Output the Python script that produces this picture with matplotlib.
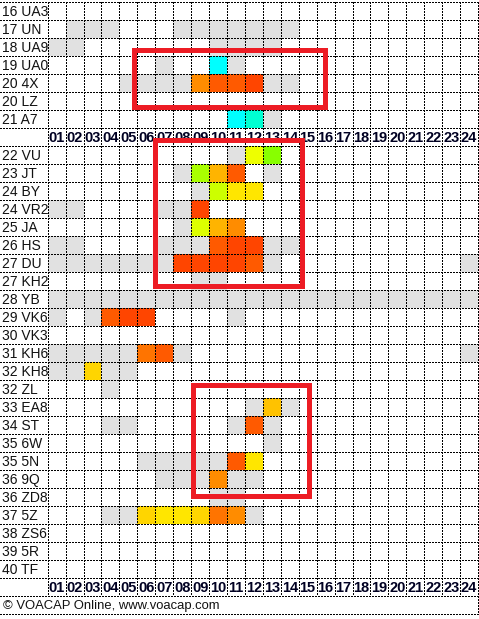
import matplotlib
matplotlib.use("Agg")
import matplotlib.pyplot as plt
from matplotlib.patches import Rectangle

plt.rcParams['font.family'] = ['Liberation Sans', 'DejaVu Sans']

# stations and hourly openings, one char per hour 01..24
# '.' closed, 'g' marginal, other letters = signal colour
stations_top = ["16 UA3", "17 UN", "18 UA9", "19 UA0", "20 4X", "20 LZ", "21 A7"]
cells_top = [
    "........................",
    ".ggg...ggggggg..........",
    "gg.......gggg...........",
    "......g..cg.............",
    "....ggggorrRgg..........",
    "........................",
    "..........cqg...........",
]

stations_bottom = ["22 VU", "23 JT", "24 BY", "24 VR2", "25 JA", "26 HS", "27 DU",
                   "27 KH2", "28 YB", "29 VK6", "30 VK3", "31 KH6", "32 KH8", "32 ZL",
                   "33 EA8", "34 ST", "35 6W", "35 5N", "36 9Q", "36 ZD8", "37 5Z",
                   "38 ZS6", "39 5R", "40 TF"]
cells_bottom = [
    "..........gYl...........",
    ".......gLar.g...........",
    "........gkyy............",
    "gg....ggR...............",
    ".......gKao.............",
    "gg....gggrRRgg..........",
    "gggggggRRRRrg..........g",
    "........gg..............",
    "gggggggggggggggggggggggg",
    "g.grRR....g.............",
    "........................",
    "gggggOrg...............g",
    "ggdgg...................",
    "...g....................",
    "...........gGg..........",
    "...gg.....grg...........",
    "............g...........",
    ".....gggggry............",
    "......gggogg............",
    ".........gg.............",
    "...ggdyydOog............",
    "........................",
    "........................",
    "........................",
]

hours = ["%02d" % h for h in range(1, 25)]
footer = "\u00a9 VOACAP Online, www.voacap.com"

palette = {
    'g': '#E1E1E1', 'c': '#00FFFF', 'q': '#00FFD2', 'y': '#FFE600',
    'Y': '#EEFF00', 'l': '#88FF00', 'L': '#AAFF00', 'k': '#CCFF00',
    'K': '#DDFF00', 'a': '#FFB400', 'o': '#FF8C00', 'O': '#FF7400',
    'r': '#FF5A00', 'R': '#FF4500', 'd': '#FFD500', 'G': '#FFC200',
}

# highlight boxes (hour_from, hour_to, row_from, row_to) in cell units
boxes = [(4.79, 15.44, 2.69, 5.86), (5.96, 14.18, 7.69, 15.75), (8.08, 14.55, 21.25, 27.44)]

col_w, row_h = 17.93, 18.0
fig = plt.figure(figsize=(4.79, 6.19), dpi=100)
ax = fig.add_axes([0, 0, 1, 1])
ax.set_xlim(-47.7 / col_w, (479 - 47.7) / col_w)
ax.set_ylim((619 - 2) / row_h, -2 / row_h)
ax.axis('off')

# row layout: top block, hour header, bottom block, hour header, footer
layout = [("st", s, c) for s, c in zip(stations_top, cells_top)]
layout.append(("hdr", None, None))
layout += [("st", s, c) for s, c in zip(stations_bottom, cells_bottom)]
layout.append(("hdr", None, None))
n_rows = len(layout)

for r, (kind, name, cells) in enumerate(layout):
    if kind == "st":
        for h, ch in enumerate(cells):
            if ch != '.':
                ax.add_patch(Rectangle((h, r), 1, 1, facecolor=palette[ch],
                                       edgecolor='none', zorder=1))
        ax.text(-47.7 / col_w + 2 / col_w, r + 0.55, name, fontsize=10,
                ha='left', va='center', color='#111111', zorder=3)
    else:
        for h, lab in enumerate(hours):
            ax.text(h + 0.5, r + 0.55, lab, fontsize=10.5, fontweight='bold',
                    ha='center', va='center', color='#000022', zorder=3)

dot = dict(color='black', lw=0.8, linestyle=(0, (1, 1)), zorder=2,
           antialiased=False)
x_left = -47.7 / col_w
for r in range(n_rows + 2):
    ax.plot([x_left, 24], [r, r], **dot)
for h in range(25):
    ax.plot([h, h], [0, n_rows], **dot)
ax.plot([24, 24], [n_rows, n_rows + 1], **dot)

ax.text(x_left + 3 / col_w, n_rows + 0.55, footer, fontsize=9.4,
        ha='left', va='center', color='#111111')

for x0, x1, y0, y1 in boxes:
    ax.add_patch(Rectangle((x0, y0), x1 - x0, y1 - y0, fill=False,
                           edgecolor='#ED1C24', lw=3.6, zorder=4))

fig.savefig("out.png", dpi=100, facecolor='white')
